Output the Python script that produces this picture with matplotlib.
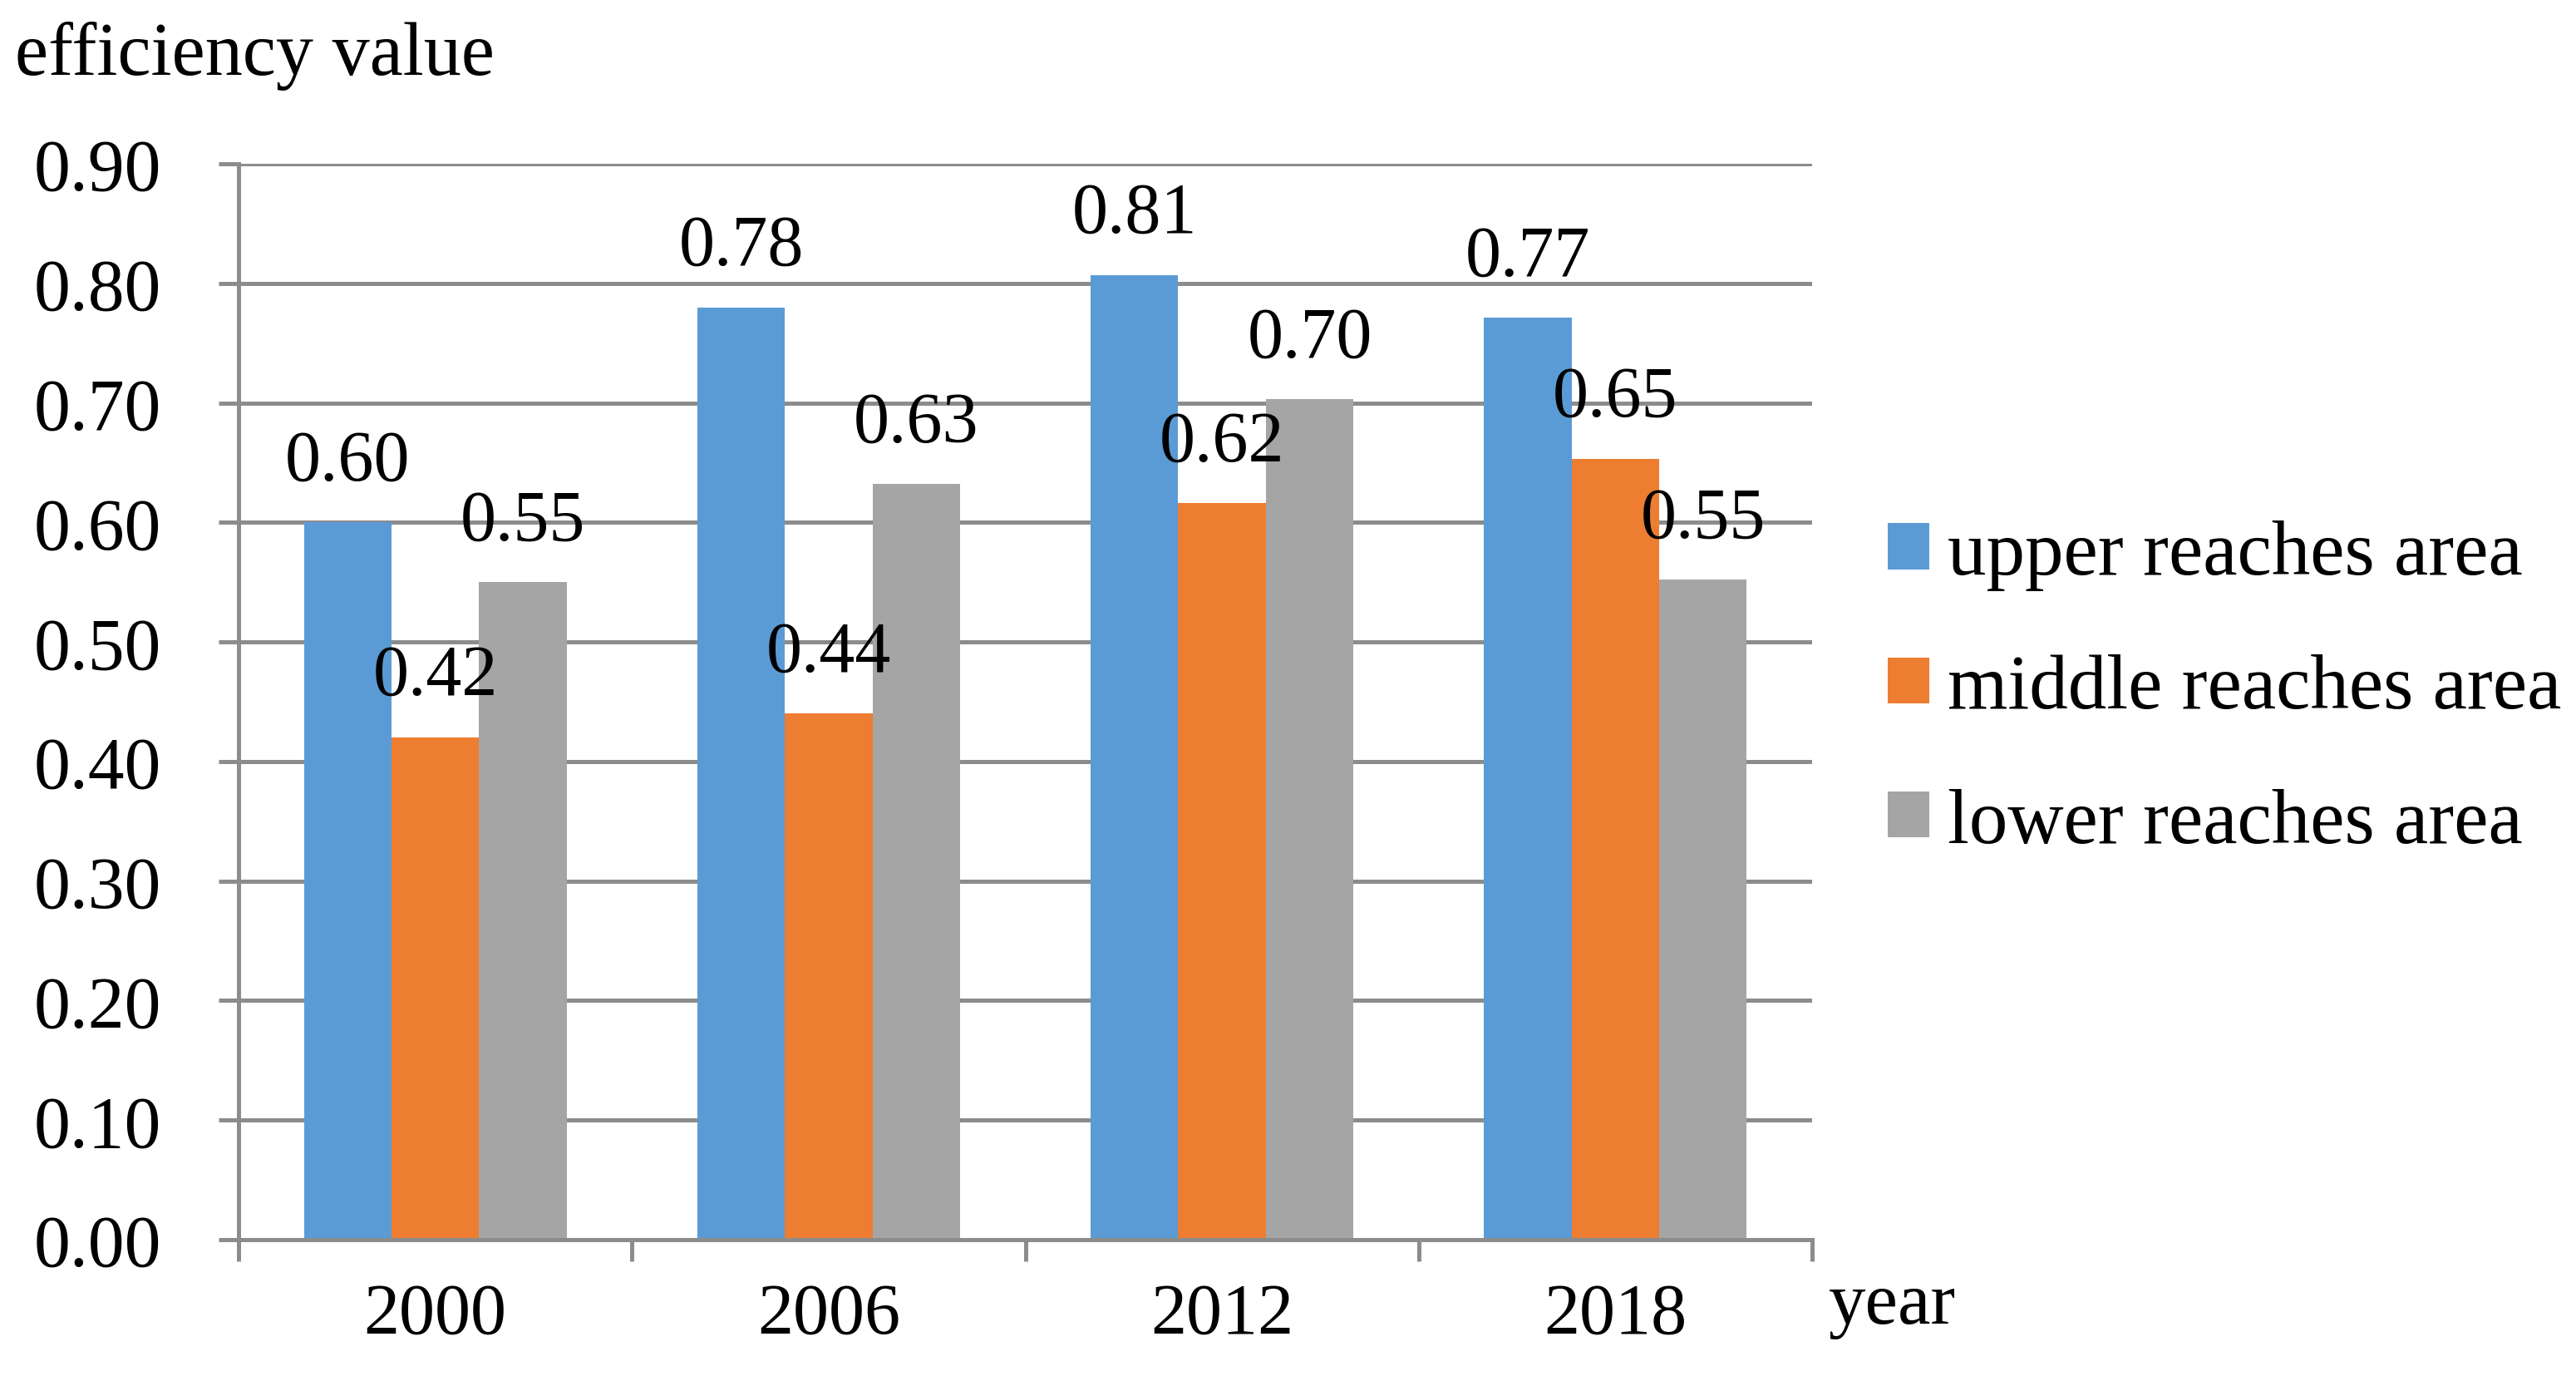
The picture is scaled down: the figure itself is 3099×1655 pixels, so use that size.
import matplotlib
matplotlib.use("Agg")
import matplotlib.pyplot as plt
from matplotlib.patches import Patch
import numpy as np

years = ["2000", "2006", "2012", "2018"]
series_names = ["upper reaches area", "middle reaches area", "lower reaches area"]
upper = [0.600, 0.780, 0.807, 0.771]
middle = [0.420, 0.440, 0.616, 0.653]
lower = [0.550, 0.632, 0.703, 0.552]
yticks = [0.0, 0.1, 0.2, 0.3, 0.4, 0.5, 0.6, 0.7, 0.8, 0.9]

colors = ["#5B9BD5", "#ED7D31", "#A5A5A5"]
grid_c = "#8c8c8c"
FONT = "Liberation Serif"
FS = 62

plt.rcParams["font.family"] = [FONT, "DejaVu Serif"]

W, H = 3099, 1656
fig = plt.figure(figsize=(W / 100, H / 100), dpi=100)
ax = fig.add_axes([287 / W, 1 - 1492 / H, (2180 - 287) / W, (1492 - 198) / H])

x = np.arange(len(years))
bw = 0.2226
data = [upper, middle, lower]
for i, (vals, c, name) in enumerate(zip(data, colors, series_names)):
    xs = x + (i - 1) * bw
    ax.bar(xs, vals, width=bw, color=c, label=name, zorder=3, linewidth=0)
    for xi, v in zip(xs, vals):
        ax.annotate(f"{v:.2f}", (xi, v), xytext=(0, 52), textcoords="offset pixels",
                    ha="center", va="baseline", fontsize=FS, color="black", zorder=5)

ax.set_xlim(-0.5, 3.5)
ax.set_ylim(0, 0.9)
ax.set_yticks(yticks)
ax.set_yticklabels([f"{t:.2f}" for t in yticks])
ax.yaxis.grid(True, color=grid_c, linewidth=3.6, zorder=0)
ax.set_axisbelow(True)

ax.set_xticks(x)
ax.set_xticklabels(years)
ax.set_xticks(np.arange(-0.5, 4.0, 1.0), minor=True)
ax.tick_params(axis="x", which="major", length=0, pad=37, labelsize=FS)
ax.tick_params(axis="x", which="minor", length=19, width=3.6, color=grid_c, direction="out")
ax.tick_params(axis="y", which="major", length=17, width=3.6, color=grid_c, direction="out",
               pad=50, labelsize=FS + 1)

for s in ["top", "right"]:
    ax.spines[s].set_visible(False)
for s in ["left", "bottom"]:
    ax.spines[s].set_color(grid_c)
    ax.spines[s].set_linewidth(3.6)
ax.spines["bottom"].set_zorder(4)

fig.text(18 / W, 1 - 90 / H, "efficiency value", fontsize=65, ha="left", va="baseline")
fig.text(2200 / W, 1 - 1592 / H, "year", fontsize=64, ha="left", va="baseline")

handles = [Patch(facecolor=c, edgecolor="none") for c in colors]
fig.legend(handles, series_names, loc="upper left", bbox_to_anchor=(2271 / W, 1 - 626 / H),
           frameon=False, fontsize=67, handlelength=0.54, handleheight=0.54,
           handletextpad=0.23, labelspacing=0.82, borderpad=0, borderaxespad=0)

fig.savefig("out.png", dpi=100)
